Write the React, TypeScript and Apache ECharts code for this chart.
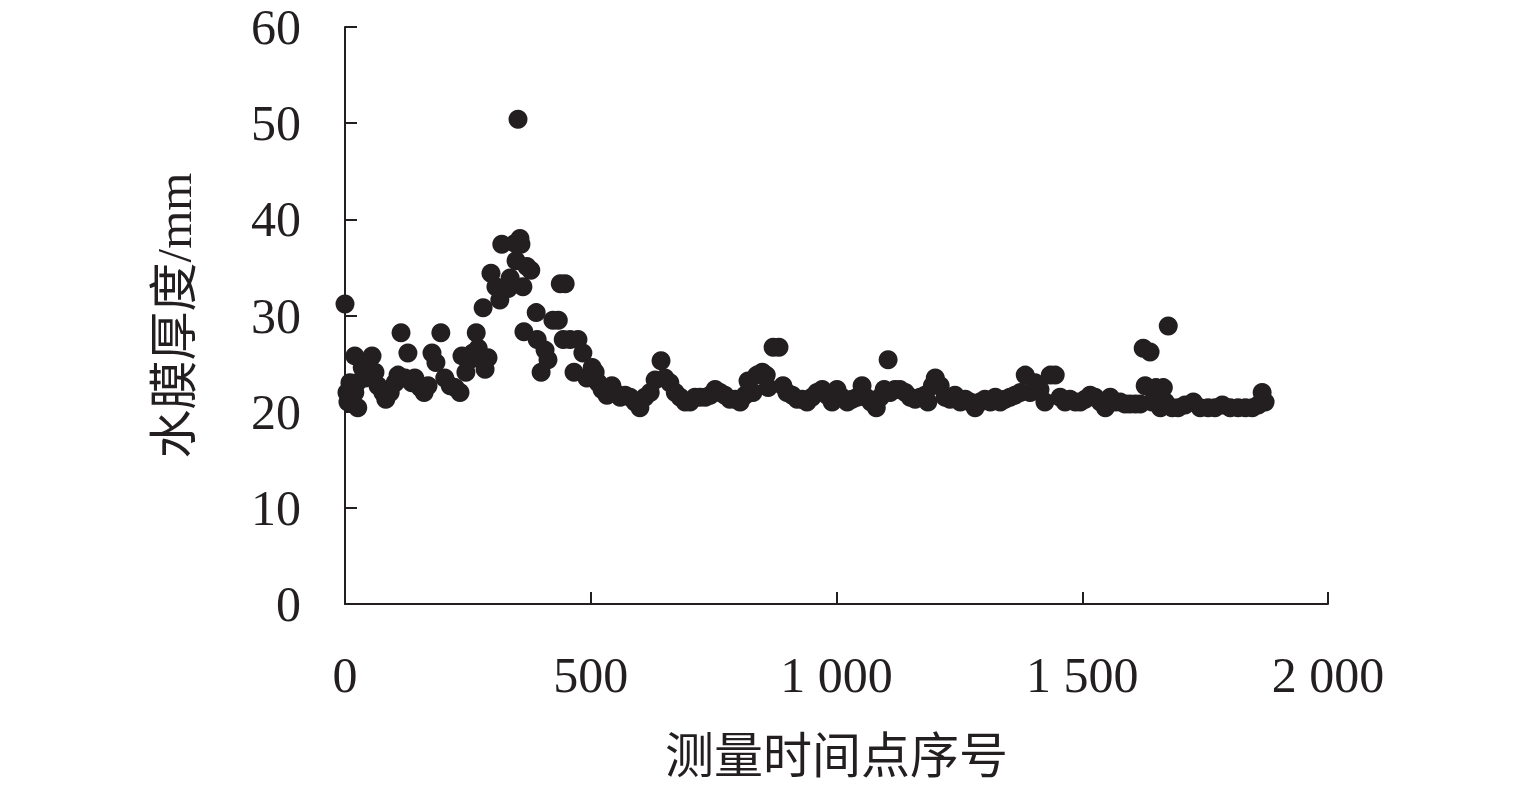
import React, { useEffect, useRef } from "react";
import * as echarts from "echarts";

const xValues = [
  0, 4, 6, 10, 14, 20, 24, 26, 20, 35, 41, 47, 55, 61, 67, 77, 83, 92, 102, 108,
  114, 122, 128, 136, 142, 153, 161, 169, 177, 185, 195, 203, 214, 224, 234, 238, 246, 254, 260, 267,
  271, 279, 285, 291, 281, 297, 307, 315, 319, 332, 336, 346, 348, 356, 358, 352, 362, 370, 378, 364,
  389, 391, 399, 407, 413, 423, 434, 438, 448, 444, 458, 466, 474, 484, 492, 503, 509, 515, 523, 533,
  543, 549, 560, 570, 580, 590, 600, 610, 621, 631, 643, 651, 661, 672, 682, 692, 702, 712, 722, 733,
  743, 753, 763, 773, 783, 794, 804, 814, 820, 830, 838, 849, 857, 861, 871, 883, 891, 899, 910, 920,
  930, 940, 950, 960, 971, 981, 991, 1001, 1011, 1022, 1032, 1042, 1052, 1060, 1070, 1081, 1089, 1097, 1105, 1109,
  1119, 1129, 1140, 1150, 1160, 1170, 1180, 1186, 1195, 1201, 1211, 1221, 1231, 1241, 1252, 1262, 1272, 1282, 1292, 1302,
  1313, 1323, 1333, 1343, 1353, 1363, 1374, 1384, 1394, 1404, 1414, 1424, 1435, 1445, 1455, 1465, 1475, 1486, 1496, 1506,
  1516, 1526, 1537, 1547, 1557, 1567, 1577, 1587, 1597, 1608, 1618, 1624, 1628, 1638, 1642, 1650, 1659, 1665, 1669, 1675,
  1683, 1695, 1709, 1726, 1740, 1756, 1770, 1785, 1801, 1817, 1832, 1846, 1858, 1866, 1872,
];

const yValues = [
  31.2, 22.0, 21.0, 23.0, 21.5, 22.0, 23.0, 20.4, 25.8, 24.6, 23.5, 25.1, 25.8, 24.1, 22.7, 22.0, 21.3, 22.0, 23.0, 23.8,
  28.2, 23.5, 26.1, 23.0, 23.5, 22.5, 22.0, 22.7, 26.1, 25.1, 28.2, 23.5, 22.7, 22.5, 22.0, 25.8, 24.1, 25.4, 26.1, 28.2,
  26.6, 25.4, 24.4, 25.6, 30.8, 34.4, 33.0, 31.6, 37.4, 32.8, 33.9, 37.5, 35.7, 38.0, 37.4, 50.4, 33.0, 35.1, 34.7, 28.3,
  30.3, 27.5, 24.1, 26.4, 25.4, 29.5, 29.5, 33.3, 33.3, 27.5, 27.5, 24.1, 27.5, 26.1, 23.5, 24.6, 24.1, 23.0, 22.3, 21.7,
  22.7, 22.0, 21.5, 21.7, 21.5, 21.0, 20.4, 21.5, 22.0, 23.3, 25.3, 23.5, 23.0, 22.0, 21.5, 21.0, 21.0, 21.5, 21.5, 21.5,
  21.7, 22.3, 22.0, 21.7, 21.3, 21.3, 21.0, 21.7, 23.2, 22.0, 23.8, 24.1, 23.8, 22.5, 26.7, 26.7, 22.7, 22.0, 21.7, 21.3,
  21.3, 21.0, 21.5, 22.0, 22.3, 21.7, 21.0, 22.3, 21.5, 21.0, 21.3, 21.5, 22.7, 21.5, 21.0, 20.4, 21.5, 22.3, 25.4, 22.0,
  22.3, 22.3, 22.0, 21.5, 21.3, 21.5, 21.7, 21.0, 22.7, 23.5, 22.7, 21.5, 21.3, 21.7, 21.0, 21.3, 21.0, 20.4, 21.0, 21.3,
  21.0, 21.5, 21.0, 21.3, 21.5, 21.7, 22.0, 23.8, 22.0, 23.0, 22.3, 21.0, 23.8, 23.8, 21.5, 21.0, 21.3, 21.0, 21.0, 21.3,
  21.7, 21.5, 21.0, 20.4, 21.5, 21.0, 21.0, 20.8, 20.8, 20.8, 20.8, 26.6, 22.7, 26.2, 21.0, 22.5, 20.4, 22.5, 21.0, 28.9,
  20.4, 20.4, 20.7, 21.0, 20.4, 20.4, 20.4, 20.7, 20.4, 20.4, 20.4, 20.4, 20.7, 22.0, 21.0,
];

const xTicks = [0, 500, 1000, 1500, 2000];
const yTicks = [0, 10, 20, 30, 40, 50, 60];
const xName = "测量时间点序号";
const yName = "水膜厚度/mm";

const FONT = "'Liberation Serif', 'Times New Roman', 'Noto Sans CJK SC', serif";

export default function App() {
  const ref = useRef<HTMLDivElement>(null);
  useEffect(() => {
    if (!ref.current) return;
    const chart = echarts.init(ref.current, null, { renderer: "svg" });
    const data = xValues.map((x, i) => [x, yValues[i]]);
    const fmtX = (v: number) => {
      const s = String(v);
      return s.length > 3 ? s.slice(0, s.length - 3) + " " + s.slice(-3) : s;
    };
    chart.setOption({
      animation: false,
      backgroundColor: "#ffffff",
      grid: { left: 345, right: 207, top: 27, bottom: 176, containLabel: false },
      xAxis: {
        type: "value",
        min: xTicks[0],
        max: xTicks[xTicks.length - 1],
        interval: 500,
        name: xName,
        nameLocation: "middle",
        nameGap: 128,
        nameTextStyle: { fontFamily: FONT, fontSize: 49, color: "#231f20" },
        axisLine: { show: true, lineStyle: { color: "#231f20", width: 2 } },
        axisTick: { show: true, inside: true, length: 12, lineStyle: { color: "#231f20", width: 2 } },
        axisLabel: { formatter: fmtX, fontFamily: FONT, fontSize: 50, color: "#231f20", margin: 46 },
        splitLine: { show: false },
      },
      yAxis: {
        type: "value",
        min: yTicks[0],
        max: yTicks[yTicks.length - 1],
        interval: 10,
        name: yName,
        nameLocation: "middle",
        nameGap: 146,
        nameRotate: 90,
        nameTextStyle: { fontFamily: FONT, fontSize: 49, color: "#231f20" },
        axisLine: { show: true, lineStyle: { color: "#231f20", width: 2 } },
        axisTick: { show: true, inside: true, length: 12, lineStyle: { color: "#231f20", width: 2 } },
        axisLabel: { fontFamily: FONT, fontSize: 50, color: "#231f20", margin: 44 },
        splitLine: { show: false },
      },
      series: [
        {
          type: "scatter",
          data,
          symbol: "circle",
          symbolSize: 19,
          itemStyle: { color: "#231f20", opacity: 1 },
        },
      ],
    });
    return () => chart.dispose();
  }, []);
  return (
    <div
      ref={ref}
      style={{ position: "absolute", left: 0, top: 0, width: 1535, height: 786 }}
    />
  );
}
